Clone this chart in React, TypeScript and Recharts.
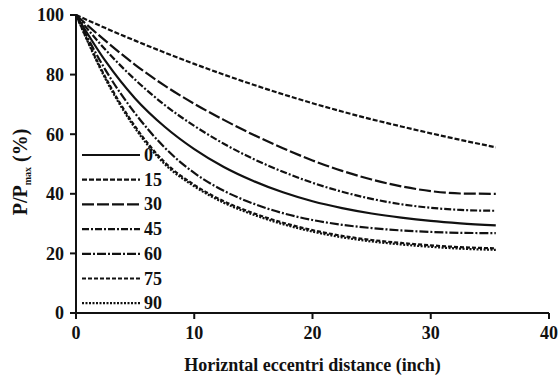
import React from 'react';
import { LineChart, Line, XAxis, YAxis } from 'recharts';

// horizontal eccentric distance (inch)
const distance = [0, 2.5, 5, 7.5, 10, 12.5, 15, 17.5, 20, 22.5, 25, 27.5, 30, 32.5, 35.5];

// P/Pmax (%) for each loading angle
const angle0 = [100, 84.5, 72, 62.5, 55, 49, 44.3, 40.5, 37.5, 35.2, 33.4, 32, 30.9, 30.1, 29.4];
const angle15 = [100, 95.6, 91.4, 87.4, 83.6, 80, 76.6, 73.4, 70.4, 67.6, 65, 62.6, 60.3, 58.1, 55.6];
const angle30 = [100, 91.3, 83.3, 76.3, 70.2, 64.8, 59.8, 55.3, 51.2, 47.7, 44.8, 42.5, 40.9, 40.1, 40];
const angle45 = [100, 88.3, 78.3, 69.8, 62.8, 56.8, 51.7, 47.4, 43.7, 40.7, 38.3, 36.5, 35.3, 34.6, 34.3];
const angle60 = [100, 81.5, 67, 55.5, 47, 41, 36.7, 33.5, 31.2, 29.6, 28.5, 27.7, 27.2, 26.9, 26.8];
const angle75 = [100, 79, 62.6, 50.6, 43, 37.5, 33.5, 30.3, 27.8, 25.9, 24.5, 23.5, 22.7, 22.1, 21.7];
const angle90 = [100, 78.5, 62, 50, 42.5, 37, 33, 29.8, 27.3, 25.4, 24, 23, 22.2, 21.6, 21.2];

const xTicks = [0, 10, 20, 30, 40];
const yTicks = [0, 20, 40, 60, 80, 100];

const SERIES = [
  { key: 'a0', name: '0', values: angle0, dash: undefined },
  { key: 'a15', name: '15', values: angle15, dash: '5 2' },
  { key: 'a30', name: '30', values: angle30, dash: '12 3' },
  { key: 'a45', name: '45', values: angle45, dash: '7 2 2 2' },
  { key: 'a60', name: '60', values: angle60, dash: '9 2 2 2' },
  { key: 'a75', name: '75', values: angle75, dash: '4 2' },
  { key: 'a90', name: '90', values: angle90, dash: '2 1.5' },
];

const data = distance.map((d, i) => {
  const row: any = { x: d };
  SERIES.forEach((s) => { row[s.key] = s.values[i]; });
  return row;
});

const FONT = '"Liberation Serif", "Times New Roman", serif';
const INK = '#111';

function YLabel() {
  return (
    <text
      transform="translate(27,172) rotate(-90)"
      textAnchor="middle"
      fontFamily={FONT}
      fontSize={20}
      fontWeight="bold"
      fill={INK}
    >
      P/P
      <tspan fontSize={10} dy={4}>max</tspan>
      <tspan dy={-4}> (%)</tspan>
    </text>
  );
}

export default function App() {
  return (
    <div style={{ position: 'absolute', left: 0, top: 0, width: 560, height: 384, background: '#fff' }}>
      <LineChart width={560} height={384} data={data} margin={{ top: 15, right: 11, left: 0, bottom: 0 }}>
        <XAxis
          dataKey="x"
          type="number"
          domain={[0, 40]}
          ticks={xTicks}
          height={71}
          stroke={INK}
          strokeWidth={2}
          tickSize={6}
          tickMargin={7}
          tick={{ fill: INK, fontFamily: FONT, fontSize: 18, fontWeight: 'bold' }}
          label={{
            value: 'Horizntal eccentri distance (inch)',
            position: 'insideBottom',
            offset: 13,
            fill: INK,
            fontFamily: FONT,
            fontSize: 18,
            fontWeight: 'bold',
          }}
        />
        <YAxis
          type="number"
          domain={[0, 100]}
          ticks={yTicks}
          width={76}
          stroke={INK}
          strokeWidth={2}
          tickSize={6}
          tickMargin={6}
          tick={{ fill: INK, fontFamily: FONT, fontSize: 18, fontWeight: 'bold' }}
          label={<YLabel />}
        />
        {SERIES.map((s) => (
          <Line
            key={s.key}
            dataKey={s.key}
            name={s.name}
            type="monotone"
            stroke={INK}
            strokeWidth={2.2}
            strokeDasharray={s.dash}
            dot={false}
            isAnimationActive={false}
          />
        ))}
      </LineChart>
      <svg style={{ position: 'absolute', left: 80, top: 140 }} width={110} height={175}>
        {SERIES.map((s, i) => {
          const y = 15 + i * 24.7;
          return (
            <g key={s.key}>
              <line x1={2} x2={60} y1={y} y2={y} stroke={INK} strokeWidth={2.2} strokeDasharray={s.dash} />
              <text x={64} y={y + 6} fontFamily={FONT} fontSize={18} fontWeight="bold" fill={INK}>
                {s.name}
              </text>
            </g>
          );
        })}
      </svg>
    </div>
  );
}
